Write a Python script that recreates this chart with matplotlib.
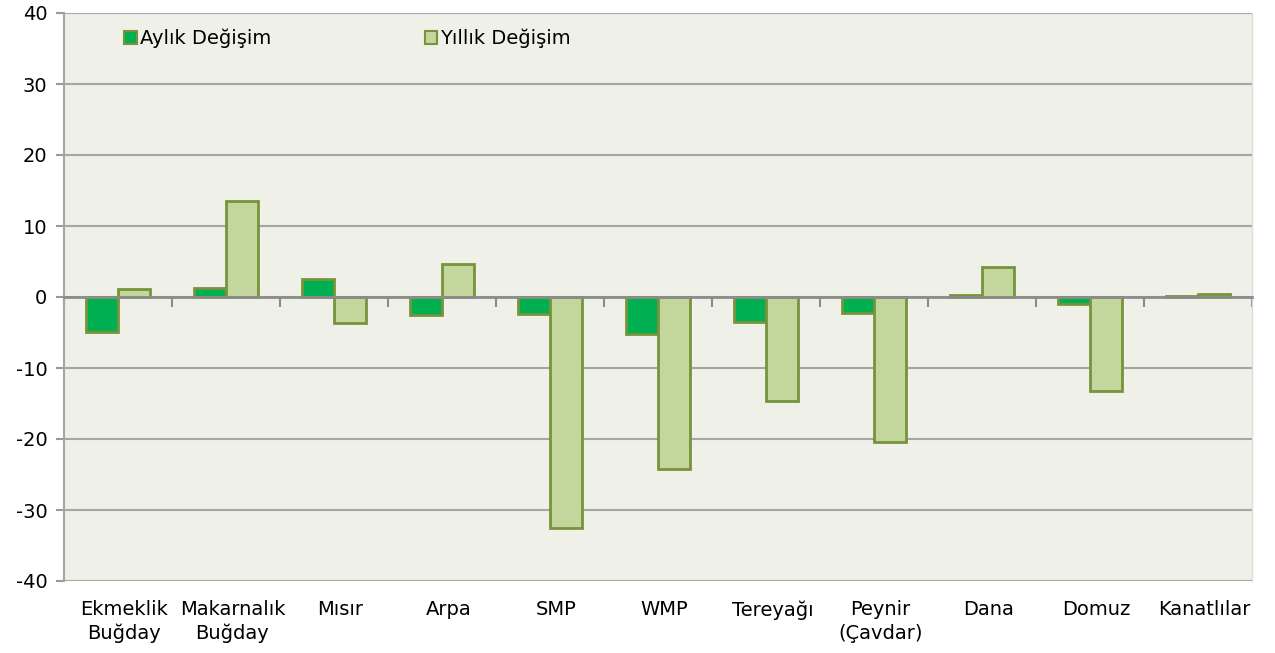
import matplotlib
matplotlib.use("Agg")
import matplotlib.pyplot as plt
import numpy as np
from matplotlib.patches import Patch
import matplotlib.transforms as mtrans

categories = ["Ekmeklik\nBuğday", "Makarnalık\nBuğday", "Mısır", "Arpa", "SMP", "WMP",
              "Tereyağı", "Peynir\n(Çavdar)", "Dana", "Domuz", "Kanatlılar"]
aylik = [-4.9, 1.2, 2.5, -2.6, -2.4, -5.2, -3.5, -2.3, 0.3, -1.0, 0.1]
yillik = [1.1, 13.5, -3.7, 4.6, -32.5, -24.2, -14.6, -20.4, 4.2, -13.2, 0.4]
yticks = [-40, -30, -20, -10, 0, 10, 20, 30, 40]
series_names = ["Aylık Değişim", "Yıllık Değişim"]

plt.rcParams['font.family'] = ['DejaVu Sans']

fig = plt.figure(figsize=(12.75, 6.53), dpi=100)
ax = fig.add_axes([64/1275, 1-581/653, (1252-64)/1275, (581-13)/653])
bg = "#EFF0E8"
ax.set_facecolor(bg)

x = np.arange(len(categories))
w = 0.295
edge = "#77933C"
ax.bar(x - w/2, aylik, w, color="#00B050", edgecolor=edge, linewidth=2, zorder=3)
ax.bar(x + w/2, yillik, w, color="#C3D69B", edgecolor=edge, linewidth=2, zorder=3)

ax.set_xlim(-0.5, len(categories) - 0.5)
ax.set_ylim(-40, 40)
ax.set_yticks(yticks)
ax.set_yticklabels([str(v) for v in yticks], fontsize=14)
ax.yaxis.grid(True, color="#A6A6A6", linewidth=1.5, zorder=0)
ax.tick_params(axis='y', length=6, width=1.5, color="#999999", pad=6)

ax.spines['top'].set_visible(False)
ax.spines['right'].set_color("#DCDCDC")
ax.spines['right'].set_linewidth(1)
ax.spines['left'].set_color("#A6A6A6")
ax.spines['left'].set_linewidth(1.5)
ax.spines['bottom'].set_position(('data', 0))
ax.spines['bottom'].set_color("#8C8C8C")
ax.spines['bottom'].set_linewidth(2)
ax.spines['bottom'].set_zorder(4)

ax.set_xticks(np.arange(len(categories) + 1) - 0.5)
ax.set_xticklabels([])
ax.tick_params(axis='x', length=7, width=1.5, color="#8C8C8C", direction='out')

trans = mtrans.blended_transform_factory(ax.transData, ax.transAxes)
for i, c in enumerate(categories):
    ax.text(i + 0.06, -0.034, c, transform=trans, ha='center', va='top', fontsize=14,
            linespacing=1.3)

handles = [Patch(facecolor="#00B050", edgecolor=edge, linewidth=1.5),
           Patch(facecolor="#C3D69B", edgecolor=edge, linewidth=1.5)]
leg = ax.legend(handles, series_names, loc='upper left', bbox_to_anchor=(0.036, 1.003),
                ncol=2, frameon=False, fontsize=14, handlelength=0.65, handleheight=0.65,
                handletextpad=0.15, columnspacing=7.9)

fig.savefig("out.png", dpi=100, facecolor="white")
